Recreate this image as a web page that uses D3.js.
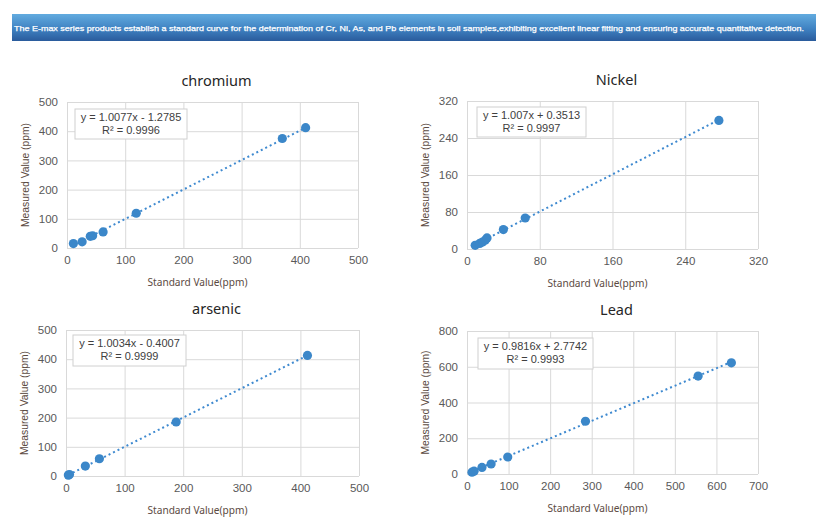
<!DOCTYPE html>
<html>
<head>
<meta charset="utf-8">
<script src="https://cdn.jsdelivr.net/npm/d3@7"></script>
<style>
  html, body { margin: 0; padding: 0; background: #fff; }
  svg { display: block; }
</style>
</head>
<body>
<svg id="chart" width="816" height="532"></svg>
<script>
// ---- data ----
const bannerText = 'The E-max series products establish a standard curve for the determination of Cr, Ni, As, and Pb elements in soil samples,exhibiting  excellent linear fitting and ensuring accurate quantitative detection.';

const elementNames = ['chromium', 'Nickel', 'arsenic', 'Lead'];

const crStandard = [11, 26, 40, 44, 62, 119, 370, 410];
const crMeasured = [15, 21, 40, 42, 55, 119, 375, 412];

const niStandard = [9, 14, 17, 20, 22, 40, 64, 277];
const niMeasured = [8, 12, 15, 19, 24, 42, 67, 278];

const asStandard = [4, 6, 33, 57, 188, 412];
const asMeasured = [3, 5, 34, 59, 185, 413];

const pbStandard = [12, 17, 36, 58, 98, 285, 556, 636];
const pbMeasured = [10, 16, 37, 56, 95, 295, 548, 622];

const slopes = [1.0077, 1.007, 1.0034, 0.9816];
const intercepts = [-1.2785, 0.3513, -0.4007, 2.7742];
const equations = ['y = 1.0077x - 1.2785', 'y = 1.007x + 0.3513', 'y = 1.0034x - 0.4007', 'y = 0.9816x + 2.7742'];
const rSquared = ['R² = 0.9996', 'R² = 0.9997', 'R² = 0.9999', 'R² = 0.9993'];

const xTicks = [[0, 100, 200, 300, 400, 500], [0, 80, 160, 240, 320], [0, 100, 200, 300, 400, 500], [0, 100, 200, 300, 400, 500, 600, 700]];
const yTicks = [[0, 100, 200, 300, 400, 500], [0, 80, 160, 240, 320], [0, 100, 200, 300, 400, 500], [0, 200, 400, 600, 800]];

const xLabel = 'Standard Value(ppm)';
const yLabel = 'Measured Value (ppm)';

// ---- layout ----
const panels = [
  { x0: 67, x1: 358, y0: 102, y1: 248, box: [75, 109, 112, 30] },
  { x0: 467, x1: 758, y0: 101, y1: 249, box: [477, 107, 109, 30] },
  { x0: 66, x1: 359, y0: 330, y1: 476, box: [73, 335, 113, 31] },
  { x0: 467, x1: 758, y0: 331, y1: 474, box: [478, 338, 115, 31] },
];
const series = [
  [crStandard, crMeasured],
  [niStandard, niMeasured],
  [asStandard, asMeasured],
  [pbStandard, pbMeasured],
];

const dotColor = '#3b87c9';
const gridColor = '#d9d9d9';

const svg = d3.select('#chart');

// banner on top
const defs = svg.append('defs');
const grad = defs.append('linearGradient')
  .attr('id', 'bannerGrad')
  .attr('x1', 0).attr('y1', 0).attr('x2', 0).attr('y2', 1);
grad.append('stop').attr('offset', '0%').attr('stop-color', '#62abdf');
grad.append('stop').attr('offset', '55%').attr('stop-color', '#3f82c2');
grad.append('stop').attr('offset', '100%').attr('stop-color', '#2a5b9c');

svg.append('rect')
  .attr('x', 12).attr('y', 14)
  .attr('width', 804).attr('height', 27)
  .attr('fill', 'url(#bannerGrad)');

svg.append('text')
  .attr('x', 14).attr('y', 30.5)
  .attr('fill', '#fff')
  .attr('stroke', '#fff')
  .attr('stroke-width', 0.25)
  .attr('font-family', '"Liberation Sans", Arial, sans-serif')
  .attr('font-size', 7.7)
  .attr('textLength', 790)
  .attr('lengthAdjust', 'spacingAndGlyphs')
  .text(bannerText);

// draws one scatter panel with its trendline and equation box
const drawPanel = (i) => {
  const p = panels[i];
  const [xs, ys] = series[i];
  const xt = xTicks[i];
  const yt = yTicks[i];

  const x = d3.scaleLinear().domain([0, xt[xt.length - 1]]).range([p.x0, p.x1]);
  const y = d3.scaleLinear().domain([0, yt[yt.length - 1]]).range([p.y1, p.y0]);

  const g = svg.append('g');

  // grid (also the frame)
  g.append('g')
    .attr('transform', `translate(0,${p.y1})`)
    .call(d3.axisBottom(x).tickValues(xt).tickSize(-(p.y1 - p.y0)).tickPadding(8))
    .call(a => a.select('.domain').remove())
    .call(a => a.selectAll('line').attr('stroke', gridColor))
    .call(a => a.selectAll('text')
      .attr('fill', '#595959')
      .attr('font-family', '"Liberation Sans", Arial, sans-serif')
      .attr('font-size', 11.5));

  g.append('g')
    .attr('transform', `translate(${p.x0},0)`)
    .call(d3.axisLeft(y).tickValues(yt).tickSize(-(p.x1 - p.x0)).tickPadding(9))
    .call(a => a.select('.domain').remove())
    .call(a => a.selectAll('line').attr('stroke', gridColor))
    .call(a => a.selectAll('text')
      .attr('fill', '#595959')
      .attr('font-family', '"Liberation Sans", Arial, sans-serif')
      .attr('font-size', 11.5));

  // title
  g.append('text')
    .attr('x', (p.x0 + p.x1) / 2 + 4)
    .attr('y', p.y0 - 16)
    .attr('text-anchor', 'middle')
    .attr('fill', '#262626')
    .attr('font-family', '"Noto Sans", sans-serif')
    .attr('font-size', 14.5)
    .text(elementNames[i]);

  // axis titles
  g.append('text')
    .attr('x', (p.x0 + p.x1) / 2 - 15)
    .attr('y', p.y1 + 38)
    .attr('text-anchor', 'middle')
    .attr('fill', '#5b4a42')
    .attr('font-family', '"Noto Sans", sans-serif')
    .attr('font-size', 10.5)
    .attr('textLength', 100)
    .attr('lengthAdjust', 'spacingAndGlyphs')
    .text(xLabel);

  g.append('text')
    .attr('transform', `translate(${p.x0 - 38},${(p.y0 + p.y1) / 2}) rotate(-90)`)
    .attr('text-anchor', 'middle')
    .attr('fill', '#5b4a42')
    .attr('font-family', '"Liberation Sans", sans-serif')
    .attr('font-size', 11)
    .attr('textLength', 104)
    .attr('lengthAdjust', 'spacingAndGlyphs')
    .text(yLabel);

  // trendline over the data range
  const xmin = d3.min(xs);
  const xmax = d3.max(xs);
  const fit = v => slopes[i] * v + intercepts[i];
  g.append('line')
    .attr('x1', x(xmin)).attr('y1', y(fit(xmin)))
    .attr('x2', x(xmax)).attr('y2', y(fit(xmax)))
    .attr('stroke', '#3f8ad0')
    .attr('stroke-width', 2)
    .attr('stroke-dasharray', '2,3');

  // points
  g.selectAll('circle')
    .data(xs.map((v, k) => [v, ys[k]]))
    .enter()
    .append('circle')
    .attr('cx', d => x(d[0]))
    .attr('cy', d => y(d[1]))
    .attr('r', 4.6)
    .attr('fill', dotColor);

  // equation box
  const [bx, by, bw, bh] = p.box;
  g.append('rect')
    .attr('x', bx).attr('y', by)
    .attr('width', bw).attr('height', bh)
    .attr('fill', '#fff')
    .attr('stroke', '#d0d0d0');

  g.append('text')
    .attr('x', bx + bw / 2).attr('y', by + 12)
    .attr('text-anchor', 'middle')
    .attr('fill', '#404040')
    .attr('font-family', '"Liberation Sans", Arial, sans-serif')
    .attr('font-size', 11)
    .text(equations[i]);

  g.append('text')
    .attr('x', bx + bw / 2).attr('y', by + 25)
    .attr('text-anchor', 'middle')
    .attr('fill', '#404040')
    .attr('font-family', '"Liberation Sans", Arial, sans-serif')
    .attr('font-size', 11)
    .text(rSquared[i]);
};

for (let i = 0; i < panels.length; i++) {
  drawPanel(i);
}
</script>
</body>
</html>
